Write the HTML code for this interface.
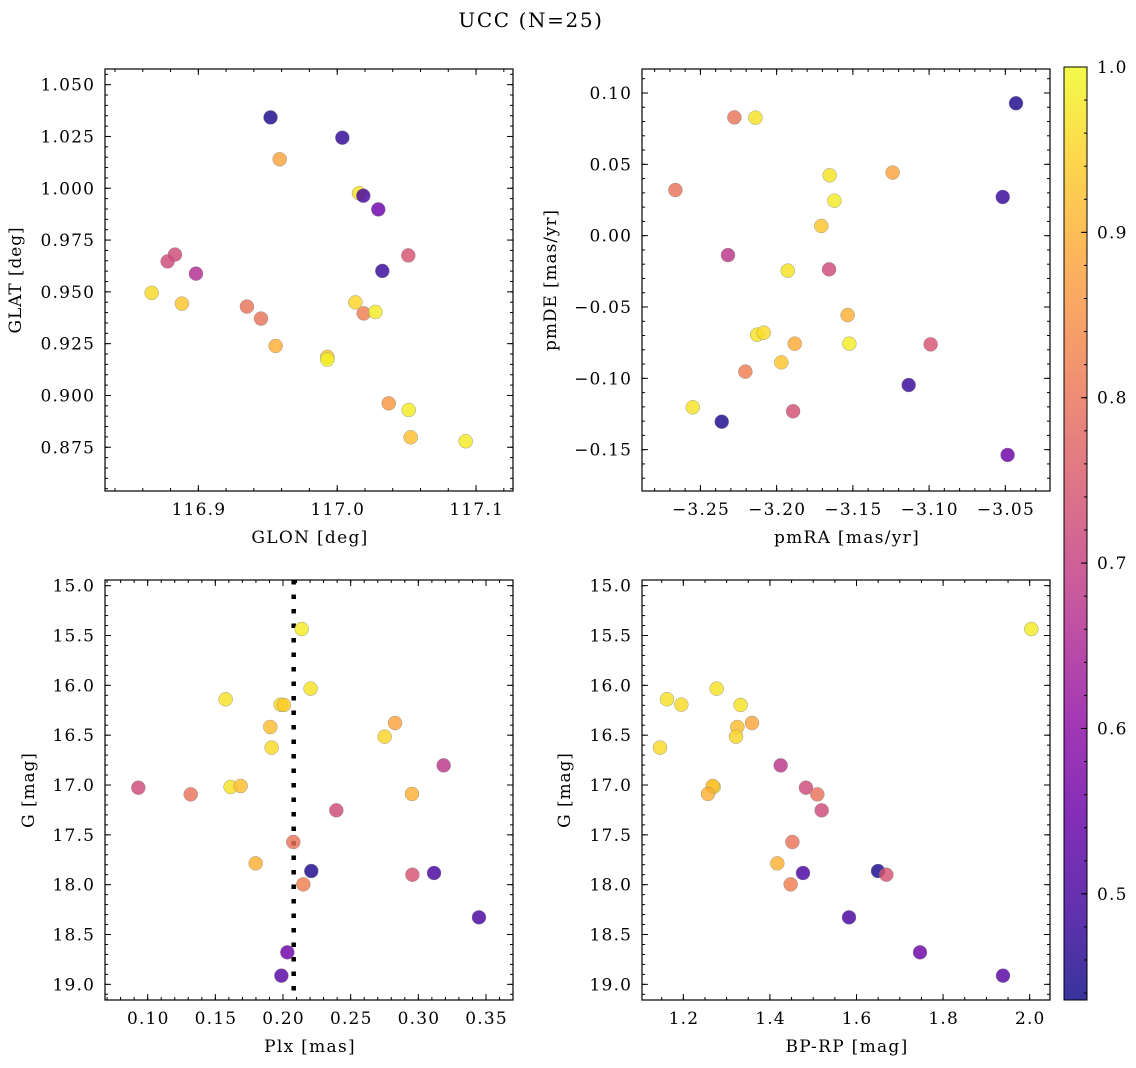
<!DOCTYPE html>
<html><head><meta charset="utf-8">
<style>
html,body{margin:0;padding:0;background:#fff;}
svg{display:block;font-family:"DejaVu Serif","Liberation Serif",serif;}
</style></head>
<body>
<svg id="fig" width="1136" height="1068" viewBox="0 0 1136 1068" xmlns="http://www.w3.org/2000/svg">
<rect width="1136" height="1068" fill="#fff"/>
<text x="531" y="27" font-size="20" letter-spacing="1.6" text-anchor="middle">UCC (N=25)</text>
</svg>
<script>
// ---- data ----
const glon = [116.952,117.0037,116.9586,117.0157,117.0188,117.0296,116.8832,116.8779,116.8983,117.0512,117.0325,116.8664,116.8882,116.935,116.9451,117.0131,117.0191,117.0275,116.9557,116.9929,116.9929,117.0371,117.0515,117.0529,117.0925];
const glat = [1.0342,1.0244,1.014,0.9976,0.9964,0.9898,0.968,0.9647,0.9588,0.9676,0.9601,0.9495,0.9443,0.9429,0.9371,0.9449,0.9396,0.9403,0.9239,0.9186,0.9173,0.8962,0.893,0.8798,0.8779];
const probPos = [0.45,0.47,0.88,0.97,0.5,0.55,0.72,0.72,0.66,0.74,0.48,0.96,0.93,0.8,0.8,0.95,0.82,0.98,0.9,0.93,0.99,0.86,0.98,0.92,0.98];

const pmra = [-3.043,-3.2277,-3.2139,-3.2664,-3.1652,-3.1239,-3.0517,-3.1621,-3.1707,-3.2319,-3.1927,-3.1656,-3.1534,-3.2128,-3.2085,-3.1881,-3.1523,-3.099,-3.1969,-3.2205,-3.1134,-3.255,-3.236,-3.1892,-3.0485];
const pmde = [0.0928,0.0829,0.0827,0.032,0.0423,0.0442,0.0271,0.0245,0.0068,-0.0136,-0.0245,-0.0236,-0.0556,-0.0694,-0.068,-0.0757,-0.0757,-0.0762,-0.0888,-0.0953,-0.1047,-0.1203,-0.1304,-0.1231,-0.1537];
const probPm = [0.45,0.8,0.97,0.8,0.97,0.88,0.48,0.98,0.93,0.68,0.97,0.72,0.9,0.97,0.96,0.89,0.98,0.74,0.93,0.82,0.48,0.97,0.45,0.73,0.55];

const plx = [0.2138,0.2204,0.1576,0.1983,0.2007,0.2828,0.1906,0.2751,0.1916,0.3187,0.0931,0.1318,0.1613,0.1687,0.2953,0.2394,0.2076,0.1798,0.2209,0.215,0.2956,0.3116,0.3448,0.2032,0.1988];
const bprp = [2.0038,1.277,1.1623,1.1954,1.3324,1.3586,1.3247,1.3217,1.1461,1.4248,1.4833,1.5095,1.2701,1.2678,1.257,1.5195,1.4518,1.4171,1.6497,1.4479,1.6689,1.4764,1.5827,1.7467,1.9384];
const gmag = [15.435,16.033,16.14,16.194,16.197,16.378,16.418,16.515,16.625,16.803,17.027,17.094,17.02,17.01,17.09,17.254,17.572,17.786,17.863,17.997,17.9,17.883,18.328,18.679,18.913];
const probPhot = [0.98,0.97,0.97,0.96,0.94,0.88,0.92,0.95,0.96,0.68,0.72,0.8,0.97,0.92,0.9,0.72,0.8,0.9,0.45,0.82,0.74,0.5,0.5,0.55,0.52];
const probPhot4 = [0.98,0.97,0.97,0.96,0.97,0.88,0.92,0.95,0.96,0.68,0.72,0.8,0.97,0.92,0.9,0.72,0.8,0.9,0.45,0.82,0.74,0.5,0.5,0.55,0.52];
const plxMedian = 0.2079;

const xTicks1 = [116.9,117.0,117.1], xTickLabels1 = ["116.9","117.0","117.1"];
const yTicks1 = [0.875,0.9,0.925,0.95,0.975,1.0,1.025,1.05], yTickLabels1 = ["0.875","0.900","0.925","0.950","0.975","1.000","1.025","1.050"];
const xTicks2 = [-3.25,-3.2,-3.15,-3.1,-3.05], xTickLabels2 = ["\u22123.25","\u22123.20","\u22123.15","\u22123.10","\u22123.05"];
const yTicks2 = [-0.15,-0.1,-0.05,0,0.05,0.1], yTickLabels2 = ["\u22120.15","\u22120.10","\u22120.05","0.00","0.05","0.10"];
const xTicks3 = [0.1,0.15,0.2,0.25,0.3,0.35], xTickLabels3 = ["0.10","0.15","0.20","0.25","0.30","0.35"];
const yTicksG = [15,15.5,16,16.5,17,17.5,18,18.5,19], yTickLabelsG = ["15.0","15.5","16.0","16.5","17.0","17.5","18.0","18.5","19.0"];
const xTicks4 = [1.2,1.4,1.6,1.8,2.0], xTickLabels4 = ["1.2","1.4","1.6","1.8","2.0"];
const cbTicks = [0.5,0.6,0.7,0.8,0.9,1.0], cbTickLabels = ["0.5","0.6","0.7","0.8","0.9","1.0"];

const VMIN = 0.4358, VMAX = 1.0;
const NS = "http://www.w3.org/2000/svg";
const svg = document.getElementById('fig');
const LS = 1.2, FS = 17;

const plasma = ["#0d0887","#41049d","#6a00a8","#8f0da4","#b12a90","#cc4778","#e16462","#f2844b","#fca636","#fcce25","#f0f921"];
function hex(c){return [parseInt(c.substr(1,2),16),parseInt(c.substr(3,2),16),parseInt(c.substr(5,2),16)];}
function cmap(t){
  t=Math.max(0,Math.min(1,t));
  const f=t*10, i=Math.min(9,Math.floor(f)), r=f-i;
  const a=hex(plasma[i]), b=hex(plasma[i+1]);
  return "rgb("+a.map((v,k)=>Math.round(v+(b[k]-v)*r)).join(",")+")";
}
function el(tag, attrs, parent){
  const e=document.createElementNS(NS,tag);
  for(const k in attrs) e.setAttribute(k,attrs[k]);
  (parent||svg).appendChild(e);
  return e;
}

function panel(cfg){
  const g=el('g',{});
  
  
  const {x0,x1,y0,y1,xmin,xmax,ymin,ymax,invertY}=cfg;
  const sx=v=>x0+(v-xmin)/(xmax-xmin)*(x1-x0);
  const sy=v=> invertY ? y0+(v-ymin)/(ymax-ymin)*(y1-y0) : y1-(v-ymin)/(ymax-ymin)*(y1-y0);
  const tk=el('g',{stroke:'#000','stroke-width':1},g);
  
  
  const lo=Math.ceil(xmin/cfg.xMinor-1e-6), hi=Math.floor(xmax/cfg.xMinor+1e-6);
  for(let i=lo;i<=hi;i++){const v=i*cfg.xMinor,X=sx(v);
    el('line',{x1:X,x2:X,y1:y1,y2:y1-3},tk); el('line',{x1:X,x2:X,y1:y0,y2:y0+3},tk);}
  const lo2=Math.ceil(Math.min(ymin,ymax)/cfg.yMinor-1e-6), hi2=Math.floor(Math.max(ymin,ymax)/cfg.yMinor+1e-6);
  for(let i=lo2;i<=hi2;i++){const v=i*cfg.yMinor,Y=sy(v);
    el('line',{x1:x0,x2:x0+3,y1:Y,y2:Y},tk); el('line',{x1:x1,x2:x1-3,y1:Y,y2:Y},tk);}
  cfg.xTicks.forEach((v,i)=>{const X=sx(v);
    el('line',{x1:X,x2:X,y1:y1,y2:y1-6},tk); el('line',{x1:X,x2:X,y1:y0,y2:y0+6},tk);
    const t=el('text',{x:X+LS/2,y:y1+24,'font-size':FS,'letter-spacing':LS,'text-anchor':'middle'},g);
    
    
    t.textContent=cfg.xLabels[i];});
  cfg.yTicks.forEach((v,i)=>{const Y=sy(v);
    el('line',{x1:x0,x2:x0+6,y1:Y,y2:Y},tk); el('line',{x1:x1,x2:x1-6,y1:Y,y2:Y},tk);
    const t=el('text',{x:x0-11+LS,y:Y+6,'font-size':FS,'letter-spacing':LS,'text-anchor':'end'},g);
    
    
    t.textContent=cfg.yLabels[i];});
  if(cfg.vline!==undefined){
    const X=sx(cfg.vline);
    const l=el('line',{x1:X,x2:X,y1:y0,y2:y1,stroke:'#000','stroke-width':4.5,'stroke-dasharray':'4.5 10'},g);
    
    
  }
  const pts=el('g',{},g);
  
  
  cfg.xs.forEach((xv,i)=>{
    const c=el('circle',{cx:sx(xv),cy:sy(cfg.ys[i]),r:7,fill:cmap((cfg.cs[i]-VMIN)/(VMAX-VMIN)),'fill-opacity':0.82,stroke:'#888','stroke-width':0.4},pts);
    
    
  });
  const fr=el('rect',{x:x0,y:y0,width:x1-x0,height:y1-y0,fill:'none',stroke:'#000','stroke-width':1.2},g);
  
  
  const xl=el('text',{x:(x0+x1)/2+1,y:y1+52,'font-size':FS,'letter-spacing':1.3,'text-anchor':'middle'},g);
  
  
  xl.textContent=cfg.xTitle;
  const yx=cfg.yTitleX, yy=(y0+y1)/2;
  const yl=el('text',{x:yx,y:yy-1,'font-size':FS,'text-anchor':'middle','letter-spacing':0.9,transform:'rotate(-90 '+yx+' '+yy+')'},g);
  
  
  yl.textContent=cfg.yTitle;
}

panel({name:'glon-glat-panel',x0:105,x1:513,y0:69,y1:491,xmin:116.8328,xmax:117.1266,ymin:0.85389,ymax:1.05756,
  xMinor:0.02,yMinor:0.005,xTicks:xTicks1,xLabels:xTickLabels1,yTicks:yTicks1,yLabels:yTickLabels1,
  xs:glon,ys:glat,cs:probPos,xTitle:'GLON [deg]',yTitle:'GLAT [deg]',yTitleX:22});
panel({name:'pm-panel',x0:642,x1:1050,y0:69,y1:491,xmin:-3.2883,xmax:-3.0207,ymin:-0.17897,ymax:0.11682,
  xMinor:0.01,yMinor:0.01,xTicks:xTicks2,xLabels:xTickLabels2,yTicks:yTicks2,yLabels:yTickLabels2,
  xs:pmra,ys:pmde,cs:probPm,xTitle:'pmRA [mas/yr]',yTitle:'pmDE [mas/yr]',yTitleX:557});
panel({name:'plx-g-panel',x0:105,x1:513,y0:580,y1:1000,xmin:0.06847,xmax:0.36995,ymin:14.9431,ymax:19.1572,invertY:true,
  xMinor:0.01,yMinor:0.1,xTicks:xTicks3,xLabels:xTickLabels3,yTicks:yTicksG,yLabels:yTickLabelsG,
  xs:plx,ys:gmag,cs:probPhot,xTitle:'Plx [mas]',yTitle:'G [mag]',yTitleX:35,vline:plxMedian});
panel({name:'cmd-panel',x0:642,x1:1050,y0:580,y1:1000,xmin:1.10452,xmax:2.04697,ymin:14.9431,ymax:19.1572,invertY:true,
  xMinor:0.05,yMinor:0.1,xTicks:xTicks4,xLabels:xTickLabels4,yTicks:yTicksG,yLabels:yTickLabelsG,
  xs:bprp,ys:gmag,cs:probPhot4,xTitle:'BP-RP [mag]',yTitle:'G [mag]',yTitleX:571});

// colorbar
(function(){
  const cx0=1064,cx1=1087,cy0=67,cy1=1000;
  const g=el('g',{});
  
  
  const defs=el('defs',{},g);
  const lg=el('linearGradient',{id:'cbg',x1:0,y1:1,x2:0,y2:0},defs);
  for(let i=0;i<=20;i++){el('stop',{offset:i/20,'stop-color':cmap(i/20),'stop-opacity':0.82},lg);}
  const r=el('rect',{x:cx0,y:cy0,width:cx1-cx0,height:cy1-cy0,fill:'url(#cbg)',stroke:'#000','stroke-width':1},g);
  
  
  const sy=v=>cy1-(v-VMIN)/(VMAX-VMIN)*(cy1-cy0);
  for(let i=22;i<=50;i++){const v=i*0.02;if(v<VMIN||v>VMAX+1e-9)continue;const Y=sy(v);
    el('line',{x1:cx1,x2:cx1-3,y1:Y,y2:Y,stroke:'#000','stroke-width':1},g);}
  cbTicks.forEach((v,i)=>{const Y=sy(v);
    el('line',{x1:cx1,x2:cx1-6,y1:Y,y2:Y,stroke:'#000','stroke-width':1},g);
    const t=el('text',{x:cx1+10,y:Y+6,'font-size':FS,'letter-spacing':LS},g);
    
    
    t.textContent=cbTickLabels[i];});
})();
</script>
</body></html>
